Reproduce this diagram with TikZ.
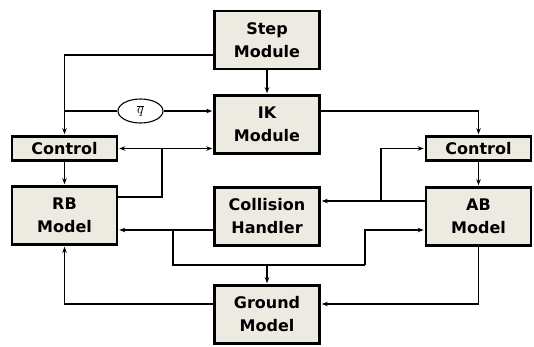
\documentclass[tikz,border=0pt]{standalone}
\usepackage{fontspec}
\setmainfont{DejaVu Sans}
\usetikzlibrary{arrows.meta,shapes.geometric}
\definecolor{boxfill}{HTML}{EDEBE1}
\tikzset{
  blk/.style={draw=black, line width=2.6pt, fill=boxfill, align=center,
    font=\bfseries\fontsize{16}{23}\selectfont, inner sep=0pt},
  big/.style={blk, minimum width=105pt, minimum height=58pt},
  small/.style={blk, minimum width=105pt, minimum height=24pt},
  arr/.style={-{Stealth[length=6pt,width=4.5pt]}, line width=1.1pt, shorten >=1pt},
  arrb/.style={{Stealth[length=6pt,width=4.5pt]}-{Stealth[length=6pt,width=4.5pt]}, line width=1.1pt, shorten >=1pt, shorten <=1pt},
  ln/.style={line width=1.1pt},
}
\begin{document}
\begin{tikzpicture}[x=1pt,y=-1pt]
\useasboundingbox (0,0) rectangle (534,346);
\node[big] (step) at (267,40) {Step\\Module};
\node[big] (ik) at (267,124.5) {IK\\Module};
\node[small] (lc) at (64.5,148.5) {Control};
\node[small] (rc) at (478.5,148.5) {Control};
\node[big] (rb) at (64.5,215.5) {RB\\Model};
\node[big] (ab) at (478.5,216.5) {AB\\Model};
\node[big] (ch) at (267,216.5) {Collision\\Handler};
\node[big] (gm) at (267,314.5) {Ground\\Model};
\node[ellipse, draw, line width=1.1pt, minimum width=45pt, minimum height=24pt, inner sep=0pt, font=\Large] (q) at (140.5,111) {$\overline{q}$};

\coordinate (a1) at (64.5,55);
\coordinate (a2) at (64.5,111);
\coordinate (a3) at (162,148.5);
\coordinate (a4) at (162,197);
\coordinate (c1) at (173,230);
\coordinate (c2) at (173,265);
\coordinate (c3) at (365,265);
\coordinate (c4) at (365,230);
\coordinate (c5) at (267,265);
\coordinate (d1) at (381,201);
\coordinate (d2) at (381,148.5);
\coordinate (e1) at (478.5,304);
\coordinate (e2) at (64.5,304);

\draw[arr] (step.west |- a1) -- (a1) -- (lc.north);
\draw[arr] (step.south) -- (ik.north);
\draw[ln] (a2) -- (q.west);
\draw[arr] (q.east) -- (ik.west |- q.east);
\draw[arrb] (lc.east) -- (ik.west |- lc.east);
\draw[ln] (a3) -- (a4) -- (rb.east |- a4);
\draw[arr] (ch.west |- c1) -- (rb.east |- c1);
\draw[ln] (c1) -- (c2) -- (c3);
\draw[arr] (c3) -- (c4) -- (ab.west |- c4);
\draw[arr] (c5) -- (gm.north);
\draw[arr] (ab.west |- d1) -- (ch.east |- d1);
\draw[arr] (d1) -- (d2) -- (rc.west);
\draw[arr] (ik.east |- q.east) -- (rc.north |- q.east) -- (rc.north);
\draw[arr] (rc.south) -- (ab.north);
\draw[arr] (lc.south) -- (rb.north);
\draw[arr] (ab.south) -- (e1) -- (gm.east |- e1);
\draw[arr] (gm.west |- e1) -- (e2) -- (rb.south);
\end{tikzpicture}
\end{document}
